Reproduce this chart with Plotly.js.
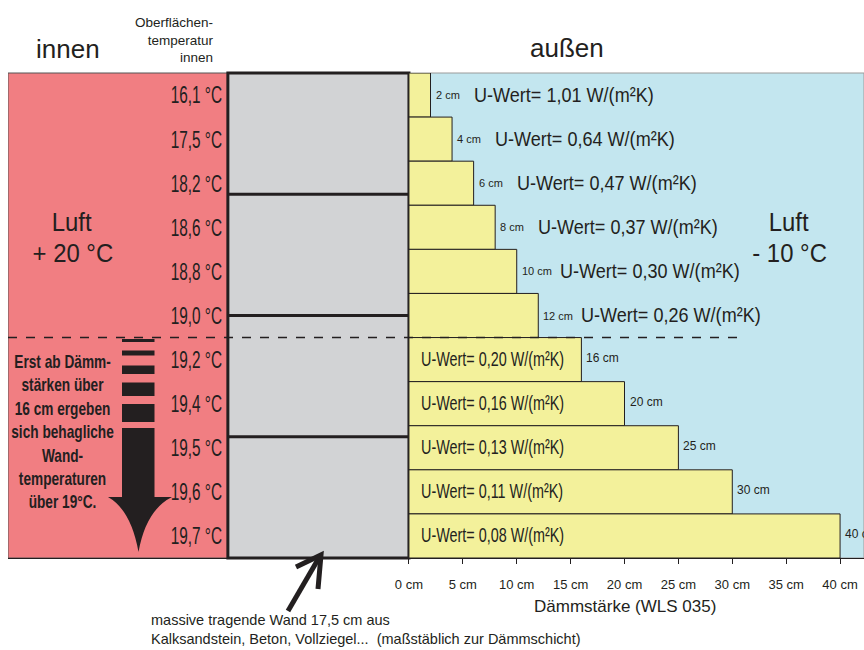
<!DOCTYPE html>
<html><head><meta charset="utf-8">
<script src="https://cdn.plot.ly/plotly-3.0.1.min.js"></script>
<style>html,body{margin:0;padding:0;background:#fff}#c{width:864px;height:650px}</style>
</head><body><div id="c"></div>
<script>
// ---- data ----
const thickness = [2, 4, 6, 8, 10, 12, 16, 20, 25, 30, 40];           // Dämmstärke in cm
const uValues = ['1,01', '0,64', '0,47', '0,37', '0,30', '0,26', '0,20', '0,16', '0,13', '0,11', '0,08'];
const surfaceTemps = ['16,1', '17,5', '18,2', '18,6', '18,8', '19,0', '19,2', '19,4', '19,5', '19,6', '19,7'];
const xTicks = [0, 5, 10, 15, 20, 25, 30, 35, 40];
const xTickLabels = xTicks.map(v => v + ' cm');
const wallThicknessDrawn = 16.8;   // wall drawn to scale of the insulation axis
const comfortIndex = 6;            // from 16 cm on: wall temperature above 19 °C

// ---- style ----
const INK = '#231f20';
const REG = '"Liberation Sans", Arial, sans-serif';
const W = 864, H = 650, ML = 8, MR = 0, MT = 73, MB = 92;
const PW = W - ML - MR, PH = H - MT - MB;
const px = x => (x - ML) / PW;
const py = y => (H - MB - y) / PH;
const XMIN = -37.2, XMAX = 42.22;

const rowIdx = thickness.map((_, i) => i);

const bars = {
  type: 'bar', orientation: 'h',
  x: thickness, y: rowIdx, width: 1,
  marker: {color: '#f3f19b', line: {color: INK, width: 1}},
  hoverinfo: 'skip', showlegend: false
};

const shapes = [];
shapes.push({type: 'rect', xref: 'x', yref: 'paper', x0: XMIN, x1: -wallThicknessDrawn, y0: 0, y1: 1,
  fillcolor: '#f17e82', line: {color: '#555', width: 1}, layer: 'below'});
shapes.push({type: 'rect', xref: 'x', yref: 'paper', x0: 0, x1: XMAX, y0: 0, y1: 1,
  fillcolor: '#c3e6ef', line: {color: '#9a9a9a', width: 1}, layer: 'below'});
shapes.push({type: 'rect', xref: 'x', yref: 'paper', x0: -wallThicknessDrawn, x1: 0, y0: 0, y1: 1,
  fillcolor: '#d2d3d5', line: {color: INK, width: 3}, layer: 'below'});
[0.25, 0.5, 0.75].forEach(f => shapes.push({type: 'line', xref: 'x', yref: 'paper',
  x0: -wallThicknessDrawn, x1: 0, y0: f, y1: f, line: {color: INK, width: 3}, layer: 'below'}));
shapes.push({type: 'line', xref: 'x', yref: 'y', x0: XMIN, x1: 30.5, y0: comfortIndex - 0.5, y1: comfortIndex - 0.5,
  line: {color: INK, width: 1.5, dash: 'dash'}});
const stripes = [[339, 342], [350.5, 355.5], [365.5, 374], [382.5, 396], [404, 422], [428, 497.5]];
stripes.forEach(s => shapes.push({type: 'rect', xref: 'paper', yref: 'paper',
  x0: px(122), x1: px(154.5), y0: py(s[1]), y1: py(s[0]), fillcolor: INK, line: {width: 0}}));
const hp = (x, y) => px(x).toFixed(5) + ',' + py(y).toFixed(5);
shapes.push({type: 'path', xref: 'paper', yref: 'paper',
  path: 'M' + hp(108, 497) + ' L' + hp(172, 497) + ' Q' + hp(146, 510) + ' ' + hp(138.5, 552) +
        ' Q' + hp(131, 510) + ' ' + hp(108, 497) + ' Z',
  fillcolor: INK, line: {width: 0}});
// pointer arrow to the wall
shapes.push({type: 'path', xref: 'paper', yref: 'paper',
  path: 'M' + hp(288, 611) + ' L' + hp(320, 556), line: {color: INK, width: 5}});
shapes.push({type: 'path', xref: 'paper', yref: 'paper',
  path: 'M' + hp(296, 567) + ' L' + hp(321, 555) + ' L' + hp(318, 589), line: {color: INK, width: 5}});

const ann = [];
const condense = [];   // [annotation index, scale, anchor]
const T = (text, x, y, size, extra) => Object.assign({text, x: px(x), y: py(y), xref: 'paper', yref: 'paper',
  xanchor: 'center', yanchor: 'middle', showarrow: false, font: {size, family: REG, color: INK}}, extra || {});

ann.push(T('innen', 68, 49, 26));
ann.push(T('außen', 567, 48, 26));
ann.push(T('Oberflächen-<br>temperatur<br>innen', 216, 40, 13.5, {xanchor: 'right', align: 'right'}));
condense.push([ann.length, 0.92, 'middle']);
ann.push(T('Luft', 72, 222, 26));
condense.push([ann.length, 0.92, 'middle']);
ann.push(T('+ 20 °C', 73, 253, 26));
condense.push([ann.length, 0.92, 'middle']);
ann.push(T('Luft', 789, 222, 26));
condense.push([ann.length, 0.92, 'middle']);
ann.push(T('- 10 °C', 789, 253, 26));
condense.push([ann.length, 0.76, 'middle']);
ann.push(T('<b>Erst ab Dämm-<br>stärken über<br>16 cm ergeben<br>sich behagliche<br>Wand-<br>temperaturen<br>über 19°C.</b>',
  63, 432, 18, {align: 'center'}));
ann.push(T('massive tragende Wand 17,5 cm aus<br>Kalksandstein, Beton, Vollziegel...  (maßstäblich zur Dämmschicht)',
  149, 629, 14.5, {xanchor: 'left', align: 'left'}));
ann.push({text: 'Dämmstärke (WLS 035)', x: 20, xref: 'x', y: py(606), yref: 'paper', xanchor: 'center', yanchor: 'middle',
  showarrow: false, font: {size: 17, family: REG, color: INK}});

thickness.forEach((t, i) => {
  const uText = 'U-Wert= ' + uValues[i] + ' W/(m²K)';
  const small = t + ' cm';
  if (i < comfortIndex) {
    ann.push({text: small, x: t, y: i, xref: 'x', yref: 'y', xanchor: 'left', yanchor: 'middle', xshift: 3, yshift: 0,
      showarrow: false, font: {size: 11, family: REG, color: INK}});
    condense.push([ann.length, 0.86, 'start']);
    ann.push({text: uText, x: t, y: i, xref: 'x', yref: 'y', xanchor: 'left', yanchor: 'middle', xshift: 41, yshift: 1,
      showarrow: false, font: {size: 21, family: REG, color: INK}});
  } else {
    condense.push([ann.length, 0.685, 'start']);
    ann.push({text: uText, x: 0, y: i, xref: 'x', yref: 'y', xanchor: 'left', yanchor: 'middle', xshift: 10, yshift: 1,
      showarrow: false, font: {size: 21, family: REG, color: INK}});
    ann.push({text: small, x: t, y: i, xref: 'x', yref: 'y', xanchor: 'left', yanchor: 'middle', xshift: 3, yshift: 2,
      showarrow: false, font: {size: 12, family: REG, color: INK}});
  }
});

const layout = {
  width: W, height: H,
  margin: {l: ML, r: MR, t: MT, b: MB, pad: 0},
  paper_bgcolor: '#fff', plot_bgcolor: '#fff',
  bargap: 0,
  xaxis: {range: [XMIN, XMAX], tickvals: xTicks, ticktext: xTickLabels, ticks: 'outside', ticklen: 5,
    tickcolor: INK, tickwidth: 1, showgrid: false, zeroline: false, showline: true, linecolor: INK, linewidth: 1,
    tickfont: {size: 13, family: REG, color: INK}, ticklabelstandoff: 9, fixedrange: true},
  yaxis: {range: [10.5, -0.5], tickvals: rowIdx, ticktext: surfaceTemps.map(s => s + ' °C'),
    anchor: 'free', position: px(228), side: 'left', showgrid: false, zeroline: false, showline: false,
    ticks: '', ticklabelstandoff: 6, tickfont: {size: 24, family: REG, color: INK}, fixedrange: true},
  shapes, annotations: ann,
  showlegend: false
};

// horizontal condensing of text (the reference uses a condensed typeface)
function squeeze(el, s, mode) {
  const bb = el.getBBox();
  const cx = mode === 'end' ? bb.x + bb.width : mode === 'start' ? bb.x : bb.x + bb.width / 2;
  const prev = el.getAttribute('transform') || '';
  el.setAttribute('transform', prev + ' translate(' + cx + ',0) scale(' + s + ',1) translate(' + (-cx) + ',0)');
}

Plotly.newPlot('c', [bars], layout, {staticPlot: true, displayModeBar: false}).then(gd => {
  gd.querySelectorAll('.yaxislayer-above text').forEach(el => squeeze(el, 0.64, 'end'));
  condense.forEach(([k, s, mode]) => {
    const el = gd.querySelector('.annotation[data-index="' + k + '"] text.annotation-text');
    if (el) squeeze(el, s, mode);
  });
});
</script>
</body></html>
